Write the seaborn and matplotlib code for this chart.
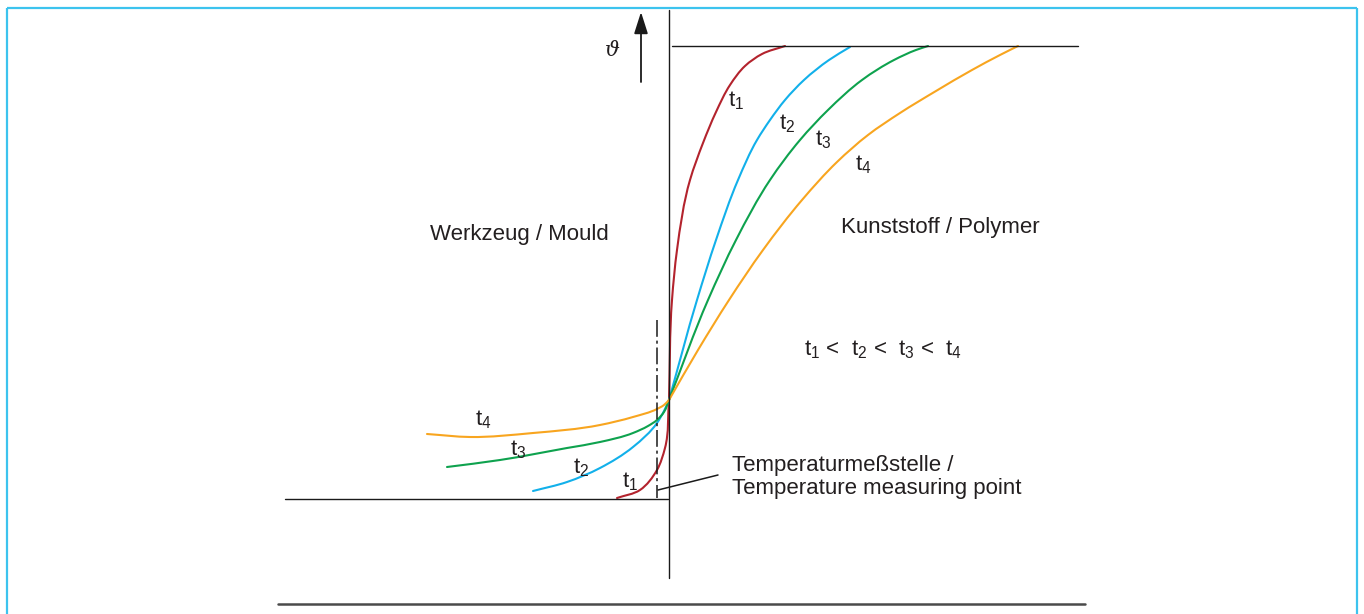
import numpy as np
import pandas as pd
import matplotlib
matplotlib.use("Agg")
import matplotlib.pyplot as plt
from matplotlib.path import Path
from matplotlib.patches import PathPatch
import seaborn as sns

# Temperature profiles across the mould / polymer interface.
# depth: distance from the interface (negative = mould side), temp: relative temperature
t1_depth = [-52, -29, -12, -4, 0, 3, 8, 21, 34, 47, 61, 76, 93, 116]
t1_temp = [1, 9, 29, 51, 99, 199, 249, 319, 356, 387, 414, 433, 445, 453]

t2_depth = [-136, -102, -69, -36, -12, -5, 0, 28, 47, 69, 88, 101, 116, 135, 160, 181]
t2_temp = [8, 17, 31, 52, 76, 88, 99, 199, 259, 319, 359, 379, 399, 419, 439, 452]

t3_depth = [-222, -169, -102, -69, -36, -21, -12, -5, 0, 39, 67, 101, 131, 159, 193, 225, 247, 259]
t3_temp = [32, 39, 51, 57, 66, 73, 79, 87, 99, 199, 259, 319, 359, 389, 419, 439, 449, 453]

t4_depth = [-242, -199, -136, -69, -36, -12, -5, 0, 29, 60, 94, 133, 168, 199, 231, 267, 303, 331, 349]
t4_temp = [65, 62, 66, 74, 82, 90, 94, 99, 149, 199, 249, 299, 337, 364, 386, 408, 429, 444, 453]

series_names = ["t1", "t2", "t3", "t4"]
series_colors = ["#b3232d", "#12b0ea", "#0ea24e", "#f8a51f"]

# label anchors (depth, temp) for the curve names on both sides
right_label_pos = [(59, 393), (110, 370), (146, 354), (186, 329)]
left_label_pos = [(-47, 12), (-96, 26), (-159, 44), (-194, 74)]

melt_temp = 453
mould_temp = 0

sns.set_theme(style="white")
plt.rcParams["font.family"] = ["Liberation Sans", "DejaVu Sans"]
plt.rcParams["mathtext.fontset"] = "custom"
plt.rcParams["mathtext.rm"] = "Liberation Sans"
plt.rcParams["mathtext.it"] = "Liberation Sans:italic"

TXT = "#231f20"
FS = 16


def hermite_segments(p):
    """Chord-length Hermite curve through points p, as Bezier vertices (no MOVETO)."""
    n = len(p)
    dt = np.maximum(np.hypot(*np.diff(p, axis=0).T), 1e-9)
    sec = np.diff(p, axis=0) / dt[:, None]
    m = np.empty_like(p)
    m[0], m[-1] = sec[0], sec[-1]
    for i in range(1, n - 1):
        m[i] = (sec[i - 1] * dt[i] + sec[i] * dt[i - 1]) / (dt[i - 1] + dt[i])
    verts = []
    for i in range(n - 1):
        verts += [p[i] + m[i] * dt[i] / 3.0, p[i + 1] - m[i + 1] * dt[i] / 3.0, p[i + 1]]
    return verts


def profile_path(xy):
    """Smooth curve on each side of the interface (depth 0), meeting there with a kink."""
    p = np.asarray(xy, dtype=float)
    k = int(np.argmin(np.abs(p[:, 0])))
    verts = [p[0]] + hermite_segments(p[:k + 1]) + hermite_segments(p[k:])
    codes = [Path.MOVETO] + [Path.CURVE4] * (len(verts) - 1)
    return Path(verts, codes)


frames = []
for name, d, t in zip(series_names, [t1_depth, t2_depth, t3_depth, t4_depth],
                      [t1_temp, t2_temp, t3_temp, t4_temp]):
    frames.append(pd.DataFrame({"depth": d, "temp": t, "time": name}))
df = pd.concat(frames, ignore_index=True)

fig = plt.figure(figsize=(13.64, 6.14), dpi=100)
ax = fig.add_axes([0, 0, 1, 1])
ax.set_xlim(-669, 695)
ax.set_ylim(-115, 499)
ax.axis("off")

# outer frame
frame_c = "#3cc3ee"
ax.plot([-662, -662], [-130, 491], color=frame_c, lw=1.6, solid_capstyle="butt")
ax.plot([-662, 688], [491, 491], color=frame_c, lw=1.6, solid_capstyle="butt")
ax.plot([688, 688], [-130, 491], color=frame_c, lw=1.6, solid_capstyle="butt")

# interface wall and reference levels
ax.plot([0, 0], [-79, 489], color="#1a1a1a", lw=1.0)
ax.plot([3, 409], [melt_temp, melt_temp], color="#1a1a1a", lw=1.0)
ax.plot([-384, -1], [mould_temp, mould_temp], color="#1a1a1a", lw=1.0)
ax.plot([-391, 416], [-105, -105], color="#4a4a4a", lw=1.8)

# temperature axis arrow
ax.annotate("", xy=(-28, 487), xytext=(-28, 417),
            arrowprops=dict(arrowstyle="-|>,head_length=1.1,head_width=0.35",
                            color="#1a1a1a", lw=1.3, shrinkA=0, shrinkB=0))
ax.text(-57, 449, "\u03d1", fontsize=15, color=TXT, ha="center", va="center",
        family=["DejaVu Serif"], style="italic")

# measuring point: dash-dot line and leader
ax.plot([-12, -12], [179, 1], color="#1a1a1a", lw=1.1, dashes=(11, 2.5, 2, 2.5))
ax.plot([-11, 49], [9, 24], color="#1a1a1a", lw=1.1)

# temperature profiles: seaborn places the series, then each is drawn as a smooth curve
n_before = len(ax.lines)
sns.lineplot(data=df, x="depth", y="temp", hue="time", palette=series_colors,
             sort=False, estimator=None, legend=False, lw=1.5, ax=ax)
for line in ax.lines[n_before:]:
    patch = PathPatch(profile_path(line.get_xydata()), facecolor="none",
                      edgecolor=line.get_color(), lw=line.get_linewidth(),
                      capstyle="round", joinstyle="round")
    ax.add_patch(patch)
    line.set_visible(False)

for i, name in enumerate(series_names):
    lbl = "t$_{%s}$" % name[1]
    ax.text(*right_label_pos[i], lbl, fontsize=FS, color=TXT, ha="left", va="baseline")
    ax.text(*left_label_pos[i], lbl, fontsize=FS, color=TXT, ha="left", va="baseline")

ax.text(-239, 259, "Werkzeug / Mould", fontsize=FS, color=TXT, ha="left", va="baseline")
ax.text(172, 266, "Kunststoff / Polymer", fontsize=FS, color=TXT, ha="left", va="baseline")
ax.text(135, 144, "t$_1$ <  t$_2$ <  t$_3$ <  t$_4$", fontsize=FS, color=TXT,
        ha="left", va="baseline")
ax.text(63, 28, "Temperaturmeßstelle /", fontsize=FS, color=TXT, ha="left", va="baseline")
ax.text(63, 5, "Temperature measuring point", fontsize=FS, color=TXT, ha="left", va="baseline")

fig.savefig("out.png", dpi=100, facecolor="white")
